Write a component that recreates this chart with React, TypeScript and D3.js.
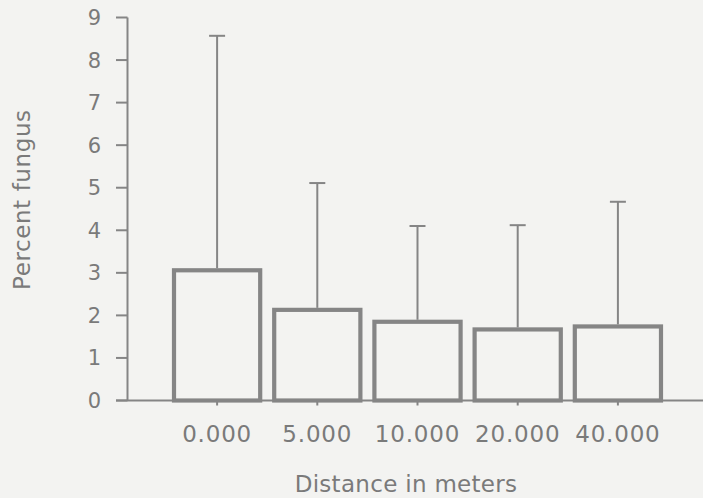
import { useRef, useEffect } from "react"
import * as d3 from "d3"

const categories = ["0.000", "5.000", "10.000", "20.000", "40.000"]
const means = [3.06, 2.13, 1.85, 1.67, 1.74]
const upperErr = [8.57, 5.11, 4.1, 4.12, 4.67]
const yTicks = [0, 1, 2, 3, 4, 5, 6, 7, 8, 9]

const width = 703
const height = 498
const ink = "#858585"
const textInk = "#7a7a7a"
const font = "'DejaVu Sans', Verdana, sans-serif"

export default function App() {
    const svgRef = useRef<SVGSVGElement>(null)
    useEffect(() => {
        const svg = d3.select(svgRef.current)
        svg.selectAll("*").remove()

        const data = categories.map((c, i) => ({ label: c, value: means[i], hi: upperErr[i] }))

        const x = d3.scaleBand()
            .domain(categories)
            .range([167, 668])
            .paddingInner(0.1)
            .paddingOuter(0.05)
        const y = d3.scaleLinear().domain([0, 9]).range([400.5, 17.5])
        const axisX = 127.5

        svg.append("rect").attr("width", width).attr("height", height).attr("fill", "#f3f3f1")

        // y axis
        svg.append("line")
            .attr("x1", axisX).attr("x2", axisX)
            .attr("y1", y(9)).attr("y2", y(0))
            .attr("stroke", ink).attr("stroke-width", 2)
        svg.selectAll(".ytick")
            .data(yTicks)
            .enter()
            .append("line")
            .attr("x1", 116).attr("x2", axisX)
            .attr("y1", d => y(d)).attr("y2", d => y(d))
            .attr("stroke", ink).attr("stroke-width", 2)
        svg.selectAll(".ylab")
            .data(yTicks)
            .enter()
            .append("text")
            .attr("x", 101)
            .attr("y", d => y(d) + 7.5)
            .attr("text-anchor", "end")
            .attr("font-family", font)
            .attr("font-size", 21)
            .attr("fill", textInk)
            .text(d => d)

        // bars
        svg.selectAll(".bar")
            .data(data)
            .enter()
            .append("rect")
            .attr("x", d => (x(d.label) as number) + 2)
            .attr("width", x.bandwidth() - 4)
            .attr("y", d => y(d.value))
            .attr("height", d => y(0) - y(d.value))
            .attr("fill", "none")
            .attr("stroke", ink)
            .attr("stroke-width", 4.2)

        // error bars (upper only)
        const cx = (d: { label: string }) => (x(d.label) as number) + x.bandwidth() / 2
        svg.selectAll(".err")
            .data(data)
            .enter()
            .append("line")
            .attr("x1", cx).attr("x2", cx)
            .attr("y1", d => y(d.value) - 2).attr("y2", d => y(d.hi))
            .attr("stroke", ink).attr("stroke-width", 2)
        svg.selectAll(".cap")
            .data(data)
            .enter()
            .append("line")
            .attr("x1", d => cx(d) - 8).attr("x2", d => cx(d) + 8)
            .attr("y1", d => y(d.hi)).attr("y2", d => y(d.hi))
            .attr("stroke", ink).attr("stroke-width", 2)

        // x axis
        svg.append("line")
            .attr("x1", 116).attr("x2", width)
            .attr("y1", y(0)).attr("y2", y(0))
            .attr("stroke", ink).attr("stroke-width", 2)
        svg.selectAll(".xtick")
            .data(data)
            .enter()
            .append("line")
            .attr("x1", cx).attr("x2", cx)
            .attr("y1", y(0)).attr("y2", y(0) + 5)
            .attr("stroke", ink).attr("stroke-width", 2)
        svg.selectAll(".xlab")
            .data(data)
            .enter()
            .append("text")
            .attr("x", cx)
            .attr("y", 441.5)
            .attr("text-anchor", "middle")
            .attr("font-family", font)
            .attr("font-size", 23)
            .attr("letter-spacing", 0.8)
            .attr("fill", textInk)
            .text(d => d.label)

        // axis titles
        svg.append("text")
            .attr("x", 406).attr("y", 491.5)
            .attr("text-anchor", "middle")
            .attr("font-family", font)
            .attr("font-size", 23)
            .attr("letter-spacing", 0.3)
            .attr("fill", textInk)
            .text("Distance in meters")
        svg.append("text")
            .attr("transform", "translate(30, 290) rotate(-90)")
            .attr("text-anchor", "start")
            .attr("font-family", font)
            .attr("font-size", 23)
            .attr("letter-spacing", 0.6)
            .attr("fill", textInk)
            .text("Percent fungus")
    }, [])
    return (
        <svg ref={svgRef} width={width} height={height}
            style={{ position: "absolute", left: 0, top: 0, display: "block" }} />
    )
}
